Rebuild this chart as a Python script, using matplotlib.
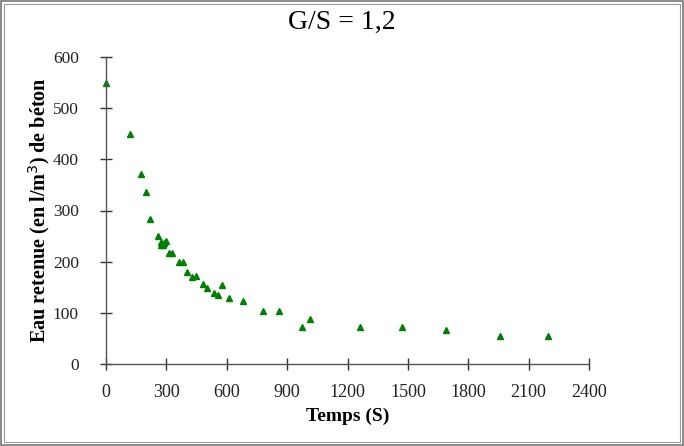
import numpy as np
import matplotlib.pyplot as plt
from matplotlib.patches import Rectangle

plt.rcParams['font.family'] = ['Liberation Serif', 'DejaVu Serif']

# time (s) and retained water (l/m3 of concrete)
temps = [0, 121, 174, 200, 220, 260, 272, 275, 281, 288, 300, 315, 328,
         361, 385, 404, 425, 447, 482, 503, 535, 556, 576, 611, 679,
         778, 858, 975, 1015, 1262, 1469, 1690, 1959, 2194]
eau = [549, 449, 372, 337, 284, 251, 239, 232, 232, 237, 240, 216, 216,
       199, 199, 180, 170, 172, 157, 149, 139, 134, 154, 129, 123,
       104, 104, 72, 87, 73, 73, 67, 55, 55]

xticks = np.arange(0, 2401, 300)
yticks = np.arange(0, 601, 100)

fig = plt.figure(figsize=(6.84, 4.46), dpi=100)
ax = fig.add_axes([106/684, 1-364/446, 483/684, 307/446])

ax.plot(temps, eau, '^', c='green', ms=4.5, mec='green', clip_on=False)

ax.set_xlim(0, 2400)
ax.set_ylim(0, 600)
ax.set_xticks(xticks)
ax.set_yticks(yticks)
for s in ['top', 'right']:
    ax.spines[s].set_visible(False)
for s in ['left', 'bottom']:
    ax.spines[s].set_color('#555555')
    ax.spines[s].set_linewidth(1)
ax.tick_params(direction='inout', length=9, width=1, color='#333333',
               labelsize=13, labelcolor='#222222')
ax.tick_params(axis='x', pad=10)
ax.tick_params(axis='y', pad=15, labelsize=12.5)

ax.set_xlabel('Temps (S)', fontsize=14, fontweight='bold', labelpad=5)
ax.set_ylabel('Eau retenue (en l/m$^3$) de béton', fontsize=14.5, fontweight='bold',
              labelpad=1)
fig.text(0.5, 1-22/446, 'G/S = 1,2', ha='center', va='center', fontsize=20)

# double frame around the chart
fig.patches.append(Rectangle((1/684, 1/446), 682/684, 444/446, transform=fig.transFigure,
                             fill=False, ec='#777777', lw=1.2))
fig.patches.append(Rectangle((4/684, 4/446), 676/684, 438/446, transform=fig.transFigure,
                             fill=False, ec='#999999', lw=0.8))

plt.savefig('out.png', dpi=100)
